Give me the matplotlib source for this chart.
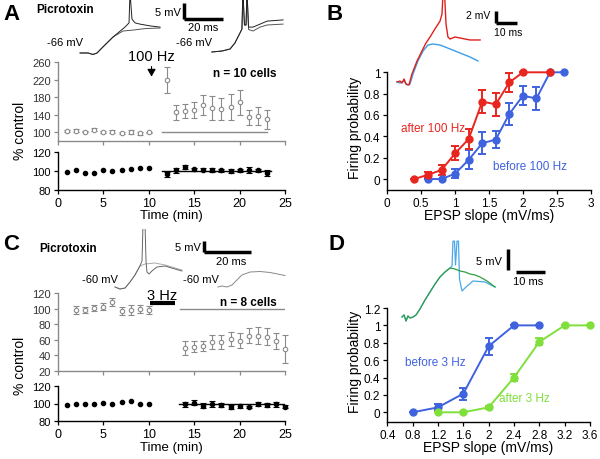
import numpy as np
import matplotlib
matplotlib.use('Agg')
import matplotlib.pyplot as plt

plt.rcParams['font.family'] = ['Liberation Sans', 'DejaVu Sans']

# ---- data ----
# Panel A (100 Hz, picrotoxin)
a_pre_t = [1, 2, 3, 4, 5, 6, 7, 8, 9, 10]
a_pre_epsp = [103, 104, 102, 106, 101, 102, 99, 101, 98, 100]
a_pre_epsp_err = [3, 4, 2, 3, 2, 3, 3, 4, 3, 2]
a_pre_input = [99.3, 101, 98.2, 97.9, 101, 100, 101.4, 102.8, 103.5, 103.5]
a_post_t = [12, 13, 14, 15, 16, 17, 18, 19, 20, 21, 22, 23]
a_post_epsp = [220, 146, 149, 152, 163, 156, 153, 158, 169, 135, 137, 130]
a_post_epsp_err = [30, 17, 15, 18, 23, 28, 25, 30, 29, 17, 20, 22]
a_post_input = [96.5, 100.7, 104, 102, 101.4, 101.4, 100.7, 100, 100.7, 101.4, 100.7, 98]
a_post_input_err = [3, 3, 2, 1.5, 1.5, 2, 1.5, 2, 2, 3, 2, 3]

# Panel C (3 Hz, picrotoxin)
c_pre_t = [2, 3, 4, 5, 6, 7, 8, 9, 10]
c_pre_epsp = [98.7, 98.7, 101, 103, 108.4, 97.3, 98.7, 100, 98.7]
c_pre_epsp_err = [5, 4, 4, 5, 5, 5, 6, 5, 5]
c_pre_input_t = [1, 2, 3, 4, 5, 6, 7, 8, 9, 10]
c_pre_input = [98.5, 100, 99.3, 99.3, 101, 99.3, 101.5, 103, 98.9, 100]
c_post_t = [14, 15, 16, 17, 18, 19, 20, 21, 22, 23, 24, 25]
c_post_epsp = [49.3, 51.4, 52.3, 57, 57.4, 61.7, 59.1, 65.2, 65.6, 64.3, 58.3, 48]
c_post_epsp_err = [9, 7, 6.5, 9, 9.5, 9, 9.7, 9.7, 10.7, 11.4, 10.3, 18]
c_post_input = [98.9, 100.8, 97.7, 99.6, 98.1, 95.9, 97.4, 95.9, 99.6, 98.1, 99.2, 96.6]
c_post_input_err = [2.5, 3, 2.5, 3, 2.5, 2, 2, 1, 2, 2.5, 3, 1.5]

# Panel B (firing probability, 100 Hz)
b_after_x = [0.4, 0.6, 0.8, 1.0, 1.2, 1.4, 1.6, 1.8, 2.0, 2.4]
b_after_y = [0, 0.04, 0.085, 0.24, 0.375, 0.725, 0.70, 0.905, 1, 1]
b_after_err = [0, 0.03, 0.045, 0.065, 0.09, 0.11, 0.11, 0.09, 0, 0]
b_before_x = [0.6, 0.8, 1.0, 1.2, 1.4, 1.6, 1.8, 2.0, 2.2, 2.4, 2.6]
b_before_y = [0, 0, 0.05, 0.18, 0.335, 0.37, 0.61, 0.78, 0.755, 1, 1]
b_before_err = [0, 0, 0.04, 0.09, 0.105, 0.08, 0.10, 0.09, 0.11, 0, 0]

# Panel D (firing probability, 3 Hz)
d_before_x = [0.8, 1.2, 1.6, 2.0, 2.4, 2.8]
d_before_y = [0, 0.057, 0.215, 0.76, 1, 1]
d_before_err = [0, 0.035, 0.07, 0.1, 0, 0]
d_after_x = [1.2, 1.6, 2.0, 2.4, 2.8, 3.2, 3.6]
d_after_y = [0, 0, 0.057, 0.4, 0.81, 1, 1]
d_after_err = [0, 0, 0.02, 0.04, 0.04, 0, 0]

# example traces (ms, mV)
trA1_t = [10.3, 14.4, 16.9, 19, 22, 27.2, 33.3, 35.4, 35.9, 36.9, 38.5, 41, 46.2, 51.3]
trA1_v = [2.67, 2.67, 2.17, 2.67, 4.67, 8, 11.3, 12.7, 23, 14, 12.7, 12.3, 11.7, 11.3]
trA2_t = [10.3, 14.4, 16.9, 19, 22, 27.2, 32.3, 37.4, 43.6, 51.3]
trA2_v = [2.67, 2.67, 2.17, 2.67, 4.67, 8, 10, 10.3, 10.8, 11]
trA3_t = [77.9, 83.1, 87.2, 89.7, 92.3, 93.3, 93.8, 94.6, 95.4, 95.9, 96.7, 99, 102.6, 106.2, 110.3, 114.4]
trA3_v = [3.0, 3.33, 4, 6, 9.33, 10.67, 23, 12, 12, 23, 11.3, 11.3, 12.3, 13.3, 13.5, 13.7]
trA4_t = [77.9, 83.1, 87.2, 89.7, 92.3, 93.3, 93.8, 94.6, 95.4, 95.9, 96.7, 99, 102.6, 106.2, 114.4]
trA4_v = [3.0, 3.33, 4, 6, 9.33, 10.67, 23, 12, 12, 23, 10.5, 10, 11.3, 12, 12.3]

trB_red_t = [3.3, 4.7, 5.6, 6.6, 7.5, 8.9, 10.3, 12.7, 15.0, 16.9, 18.8, 21.1, 23.5, 24.4, 24.9, 25.6,
             26.3, 27.2, 28.2, 30.5, 32.9, 35.2, 37.6, 42.3]
trB_red_v = [1.17, 1.33, 1.0, 1.67, 0.83, 0.67, 2.5, 4.67, 6.33, 7.67, 8.67, 10, 11.33, 12.5, 16, 16,
             10.8, 8.67, 8.33, 8.67, 8.5, 8.33, 8.17, 8.17]
trB_blue_t = [3.3, 4.7, 6.6, 8.0, 9.4, 10.8, 13.1, 15.5, 17.8, 20.2, 23.5, 28.2, 32.9, 37.6, 41.3]
trB_blue_v = [1.17, 1.0, 1.33, 0.67, 0.83, 2.5, 4.67, 6.33, 7.33, 7.5, 7.33, 6.67, 6, 5.33, 4.67]

trC1_t = [23.4, 25.5, 27.7, 29.8, 31.9, 34.0, 34.9, 35.3, 36.2, 36.6, 37.0, 37.9, 39.1, 41.3, 44.7, 48.9, 51.9]
trC1_v = [2.5, 1.5, 2, 5, 8.5, 13, 15.5, 33, 33, 15.5, 10, 9, 10.5, 12.5, 13, 11.5, 10.5]
trC2_t = [23.4, 25.5, 27.7, 29.8, 31.9, 34.0, 36.2, 38.3, 40.4, 44.7, 51.9]
trC2_v = [2.5, 1.5, 2, 5, 8.5, 13, 14, 14.25, 14.5, 13.5, 11]
trC3_t = [67.2, 68.9, 71.1, 73.2, 75.3, 77.4, 80.9, 85.1, 89.4, 95.7]
trC3_v = [2.5, 3, 2.5, 3.5, 6, 8.5, 10, 10.25, 9.75, 8.25]

trD_green_t = [4.14, 4.83, 5.52, 6.21, 6.9, 7.93, 8.97, 10.34, 12.07, 13.79, 15.52, 17.24, 18.97, 20.69,
               22.41, 24.14, 25.86, 27.59, 29.31, 31.03, 33.45, 36.21]
trD_green_v = [2.17, 2.66, 1.21, 2.42, 1.93, 2.17, 2.66, 4.11, 6.28, 8.21, 10.14, 11.84, 13.04, 14.01,
               13.77, 13.29, 13.04, 12.56, 12.32, 11.84, 10.87, 9.42]
trD_blue_t = [4.14, 4.83, 5.52, 6.21, 6.9, 7.93, 8.97, 10.34, 12.07, 13.79, 15.52, 17.24, 18.97, 20.69,
              21.38, 21.72, 22.24, 22.59, 23.1, 23.62, 23.97, 24.83, 26.21, 28.62, 32.76, 36.21]
trD_blue_v = [2.17, 2.66, 1.21, 2.42, 1.93, 2.17, 2.66, 4.11, 6.28, 8.21, 10.14, 11.84, 13.04, 14.01,
              14.49, 20.5, 20.5, 14.73, 20.5, 20.5, 11.35, 8.45, 9.42, 10.87, 10.63, 9.42]

W, H = 600, 460
fig = plt.figure(figsize=(6, 4.6), dpi=100)

def px_ax(l, t, r, b):
    return fig.add_axes([l / W, 1 - b / H, (r - l) / W, (b - t) / H])

def ftext(x, y, s, **kw):
    fig.text(x / W, 1 - y / H, s, **kw)

def trace_ax(x0, y0, w, h, px_ms, px_mv):
    ax = fig.add_axes([x0 / W, 1 - (y0 + h) / H, w / W, h / H])
    ax.set_xlim(0, w / px_ms)
    ax.set_ylim(0, h / px_mv)
    ax.axis('off')
    ax.patch.set_alpha(0)
    return ax

def style(ax, col='k', fs=8):
    for s in ['top', 'right']:
        ax.spines[s].set_visible(False)
    for s in ['left', 'bottom']:
        ax.spines[s].set_color(col)
        ax.spines[s].set_linewidth(1.0)
    ax.tick_params(direction='out', length=3, width=0.9, color=col, labelsize=fs, pad=2)
    ax.patch.set_alpha(0)

GR = '#8a8a8a'

def time_panel(top_box, low_box, ylim_up, yticks_up, pre_t, pre_y, pre_e, post_t, post_y, post_e,
               in_pre_t, in_pre, in_post_t, in_post, in_post_e, line_up, line_low):
    up = px_ax(*top_box)
    style(up, col=GR)
    up.tick_params(axis='y', labelcolor='#333333')
    for t, y, e in [(pre_t, pre_y, pre_e), (post_t, post_y, post_e)]:
        up.errorbar(t, y, yerr=e, fmt='o', ms=3.2, mfc='white', mec=GR, mew=0.8,
                    ecolor=GR, elinewidth=0.8, capsize=2, capthick=0.8, clip_on=False)
    up.plot(line_up, [100, 100], color=GR, lw=1)
    up.set_xlim(0, 25)
    up.set_ylim(*ylim_up)
    up.set_yticks(yticks_up)
    up.set_xticks([0, 5, 10, 15, 20, 25])
    up.set_xticklabels([])
    lo = px_ax(*low_box)
    style(lo)
    lo.plot(in_pre_t, in_pre, 'o', ms=3, color='k', clip_on=False)
    lo.errorbar(in_post_t, in_post, yerr=in_post_e, fmt='o', ms=3, color='k',
                elinewidth=0.8, capsize=2, capthick=0.8, clip_on=False)
    lo.plot(line_low, [100, 100], color='k', lw=1)
    lo.set_xlim(0, 25)
    lo.set_ylim(80, 120)
    lo.set_yticks([80, 100, 120])
    lo.set_xticks([0, 5, 10, 15, 20, 25])
    lo.tick_params(axis='x', labelsize=9)
    return up, lo

# ---------------- Panel A ----------------
upA, loA = time_panel((58, 62.6, 285, 141.7), (58, 153.3, 285, 191), (81, 262), [100, 140, 180, 220, 260],
                      a_pre_t, a_pre_epsp, a_pre_epsp_err, a_post_t, a_post_epsp, a_post_epsp_err,
                      a_pre_t, a_pre_input, a_post_t, a_post_input, a_post_input_err,
                      [11.5, 23], [11.5, 23.5])
upA.annotate('', xy=(10.3, 221), xytext=(10.3, 257),
             arrowprops=dict(arrowstyle='-|>,head_width=0.25,head_length=0.45', color='k', lw=0.8))
upA.text(10.3, 274, '100 Hz', ha='center', va='center', fontsize=10.5, clip_on=False)
upA.text(20.6, 236, 'n = 10 cells', ha='center', va='center', fontsize=8.5, fontweight='bold')
ftext(20, 131, '% control', rotation=90, ha='center', va='center', fontsize=10)
ftext(171, 216, 'Time (min)', ha='center', va='center', fontsize=9.5)
ftext(11, 15, 'A', ha='center', va='center', fontsize=16, fontweight='bold')
ftext(65, 10, 'Picrotoxin', ha='center', va='center', fontsize=8.5, fontweight='bold')

tA = trace_ax(60, 0, 230, 62, 1.95, 3.0)
tA.plot(trA2_t, trA2_v, color='#555555', lw=0.7)
tA.plot(trA1_t, trA1_v, color='#222222', lw=0.7)
tA.plot(trA4_t, trA4_v, color='#555555', lw=0.7)
tA.plot(trA3_t, trA3_v, color='#222222', lw=0.7)
tA.plot([63.6, 63.6], [14, 19.3], color='k', lw=2.5, solid_capstyle='butt')
tA.plot([63.6, 83.6], [14, 14], color='k', lw=2.5, solid_capstyle='butt')
tA.text(62, 16.3, '5 mV', ha='right', va='center', fontsize=8)
tA.text(73.6, 11.3, '20 ms', ha='center', va='center', fontsize=8)
tA.text(2.6, 6.3, '-66 mV', ha='center', va='center', fontsize=8)
tA.text(68.7, 6.3, '-66 mV', ha='center', va='center', fontsize=8)

# ---------------- Panel C ----------------
upC, loC = time_panel((58, 294.3, 285, 372), (58, 386.7, 285, 422.3), (20, 120), [20, 40, 60, 80, 100, 120],
                      c_pre_t, c_pre_epsp, c_pre_epsp_err, c_post_t, c_post_epsp, c_post_epsp_err,
                      c_pre_input_t, c_pre_input, c_post_t, c_post_input, c_post_input_err,
                      [13.4, 25], [13.3, 25])
upC.text(11.5, 118, '3 Hz', ha='center', va='center', fontsize=10.5, clip_on=False)
upC.plot([10.1, 12.9], [107.7, 107.7], color='k', lw=3, solid_capstyle='butt')
upC.text(21, 109.4, 'n = 8 cells', ha='center', va='center', fontsize=8.5, fontweight='bold')
ftext(20, 366, '% control', rotation=90, ha='center', va='center', fontsize=10)
ftext(171, 448, 'Time (min)', ha='center', va='center', fontsize=9.5)
ftext(11, 245, 'C', ha='center', va='center', fontsize=16, fontweight='bold')
ftext(68, 249, 'Picrotoxin', ha='center', va='center', fontsize=8.5, fontweight='bold')

tC = trace_ax(60, 230, 230, 63, 2.35, 2.0)
tC.plot(trC2_t, trC2_v, color='#aaaaaa', lw=0.7)
tC.plot(trC1_t, trC1_v, color='#666666', lw=0.7)
tC.plot(trC3_t, trC3_v, color='#888888', lw=0.7)
tC.plot([61.3, 61.3], [20, 25.3], color='k', lw=2.5, solid_capstyle='butt')
tC.plot([61.3, 81.3], [20, 20], color='k', lw=2.5, solid_capstyle='butt')
tC.text(60, 22.5, '5 mV', ha='right', va='center', fontsize=8)
tC.text(72.8, 15.5, '20 ms', ha='center', va='center', fontsize=8)
tC.text(17, 6.5, '-60 mV', ha='center', va='center', fontsize=8)
tC.text(60, 6.5, '-60 mV', ha='center', va='center', fontsize=8)

# ---------------- Panel B ----------------
RED = '#e8261f'
BLUE = '#3f63df'
GREEN = '#7fe03c'

def prob_panel(box, xlim, ylim, xticks, xlabels, yticks, ylabels):
    ax = px_ax(*box)
    style(ax, fs=8.5)
    ax.set_xlim(*xlim)
    ax.set_ylim(*ylim)
    ax.set_xticks(xticks)
    ax.set_xticklabels(xlabels)
    ax.set_yticks(yticks)
    ax.set_yticklabels(ylabels)
    return ax

def prob_series(ax, x, y, e, col):
    ax.errorbar(x, y, yerr=e, fmt='-o', color=col, ms=5, lw=1.4, elinewidth=1.4,
                capsize=3, capthick=1.4, clip_on=False, zorder=3)

axB = prob_panel((387.3, 73.3, 590.7, 190.7), (0, 3), (-0.1, 1.0),
                 [0, 0.5, 1, 1.5, 2, 2.5, 3], ['0', '0.5', '1', '1.5', '2', '2.5', '3'],
                 [0, 0.2, 0.4, 0.6, 0.8, 1], ['0', '0.2', '0.4', '0.6', '0.8', '1'])
prob_series(axB, b_before_x, b_before_y, b_before_err, BLUE)
prob_series(axB, b_after_x, b_after_y, b_after_err, RED)
axB.text(0.2, 0.48, 'after 100 Hz', color=RED, fontsize=8.5, va='center')
axB.text(1.56, 0.12, 'before 100 Hz', color=BLUE, fontsize=8.5, va='center')
ftext(489, 216, 'EPSP slope (mV/ms)', ha='center', va='center', fontsize=10)
ftext(355, 128, 'Firing probability', rotation=90, ha='center', va='center', fontsize=10)
ftext(335, 15, 'B', ha='center', va='center', fontsize=16, fontweight='bold')

tB = trace_ax(390, 0, 140, 90, 2.13, 6.0)
tB.plot(trB_blue_t, trB_blue_v, color='#3a9ee6', lw=1.0)
tB.plot(trB_red_t, trB_red_v, color='#e0201c', lw=1.0)
tB.plot([49.6, 49.6], [11, 13], color='k', lw=2.5, solid_capstyle='butt')
tB.plot([49.6, 59.6], [11, 11], color='k', lw=2.5, solid_capstyle='butt')
tB.text(47, 12.3, '2 mV', ha='right', va='center', fontsize=7.5)
tB.text(55.4, 9.5, '10 ms', ha='center', va='center', fontsize=7.5)

# ---------------- Panel D ----------------
axD = prob_panel((387.3, 309, 590, 423.3), (0.4, 3.6), (-0.115, 1.2),
                 [0.4, 0.8, 1.2, 1.6, 2.0, 2.4, 2.8, 3.2, 3.6],
                 ['0.4', '0.8', '1.2', '1.6', '2', '2.4', '2.8', '3.2', '3.6'],
                 [0, 0.2, 0.4, 0.6, 0.8, 1, 1.2], ['0', '0.2', '0.4', '0.6', '0.8', '1', '1.2'])
prob_series(axD, d_before_x, d_before_y, d_before_err, BLUE)
prob_series(axD, d_after_x, d_after_y, d_after_err, GREEN)
axD.text(0.68, 0.58, 'before 3 Hz', color=BLUE, fontsize=8.5, va='center')
axD.text(2.17, 0.165, 'after 3 Hz', color=GREEN, fontsize=8.5, va='center')
ftext(488, 448, 'EPSP slope (mV/ms)', ha='center', va='center', fontsize=10)
ftext(355, 362, 'Firing probability', rotation=90, ha='center', va='center', fontsize=10)
ftext(336, 245, 'D', ha='center', va='center', fontsize=16, fontweight='bold')

tD = trace_ax(390, 232, 170, 95, 2.9, 4.14)
tD.plot(trD_blue_t, trD_blue_v, color='#4aa8e8', lw=0.9)
tD.plot(trD_green_t, trD_green_v, color='#2f9e45', lw=0.9)
tD.plot([40.7, 40.7], [13.6, 18.6], color='k', lw=2.5, solid_capstyle='butt')
tD.plot([43.4, 53.4], [12.97, 12.97], color='k', lw=2.5, solid_capstyle='butt')
tD.text(38.6, 15.7, '5 mV', ha='right', va='center', fontsize=8)
tD.text(47.6, 10.9, '10 ms', ha='center', va='center', fontsize=8)

fig.savefig('out.png', dpi=100)
